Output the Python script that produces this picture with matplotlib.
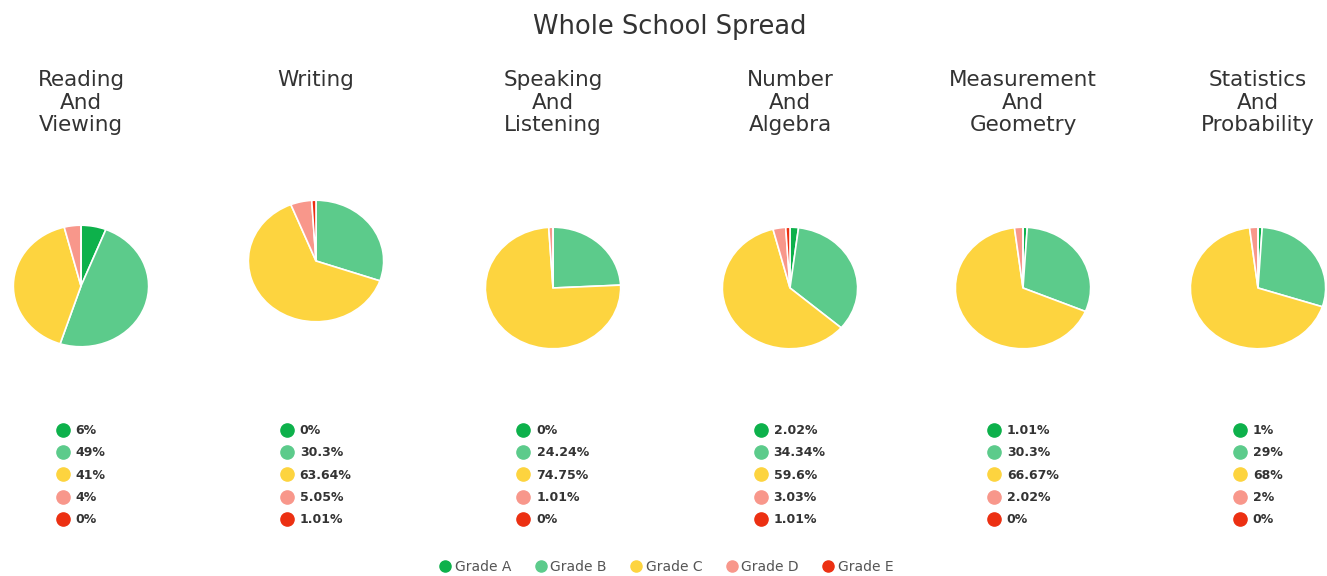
import matplotlib
matplotlib.use("Agg")
import matplotlib.pyplot as plt
from matplotlib.lines import Line2D

W, H = 1327, 576
DPI = 100

subjects = ["Reading\nAnd\nViewing", "Writing", "Speaking\nAnd\nListening",
            "Number\nAnd\nAlgebra", "Measurement\nAnd\nGeometry", "Statistics\nAnd\nProbability"]
grades = ["Grade A", "Grade B", "Grade C", "Grade D", "Grade E"]
colors = ["#0db14b", "#5ccb8b", "#fdd43f", "#f8978b", "#ec3012"]

reading = [6, 49, 41, 4, 0]
writing = [0, 30.3, 63.64, 5.05, 1.01]
speaking = [0, 24.24, 74.75, 1.01, 0]
number = [2.02, 34.34, 59.6, 3.03, 1.01]
measurement = [1.01, 30.3, 66.67, 2.02, 0]
statistics = [1, 29, 68, 2, 0]
series = [reading, writing, speaking, number, measurement, statistics]

reading_labels = ["6%", "49%", "41%", "4%", "0%"]
writing_labels = ["0%", "30.3%", "63.64%", "5.05%", "1.01%"]
speaking_labels = ["0%", "24.24%", "74.75%", "1.01%", "0%"]
number_labels = ["2.02%", "34.34%", "59.6%", "3.03%", "1.01%"]
measurement_labels = ["1.01%", "30.3%", "66.67%", "2.02%", "0%"]
statistics_labels = ["1%", "29%", "68%", "2%", "0%"]
label_sets = [reading_labels, writing_labels, speaking_labels,
              number_labels, measurement_labels, statistics_labels]

# layout (pixels)
centers_x = [81, 316, 553, 790, 1023, 1258]
centers_y = [286, 261, 288, 288, 288, 288]
rx, ry = 69, 62

fig = plt.figure(figsize=(W / DPI, H / DPI), dpi=DPI)
fig.patch.set_facecolor("white")

fig.text(670 / W, 1 - 27 / H, "Whole School Spread", ha="center", va="center",
         fontsize=18.5, color="#333333", family="DejaVu Sans")

for i, (vals, labs, title) in enumerate(zip(series, label_sets, subjects)):
    cx, cy = centers_x[i], centers_y[i]
    ax = fig.add_axes([(cx - rx) / W, 1 - (cy + ry) / H, 2 * rx / W, 2 * ry / H])
    ax.pie(vals, colors=colors, startangle=90, counterclock=False,
           wedgeprops=dict(edgecolor="white", linewidth=1.2))
    ax.set_aspect("auto")
    ax.set_xlim(-1.02, 1.02)
    ax.set_ylim(-1.02, 1.02)
    ax.axis("off")

    fig.text(cx / W, 1 - 70 / H, title, ha="center", va="top", fontsize=15.5,
             color="#333333", linespacing=1.17, family="DejaVu Sans")

    handles = [Line2D([], [], marker="o", linestyle="", markersize=9.5,
                      markerfacecolor=c, markeredgecolor=c) for c in colors]
    fig.legend(handles, labs, loc="upper center",
               bbox_to_anchor=(cx / W, 1 - 418 / H), frameon=False,
               prop=dict(size=9, weight="bold", family="DejaVu Sans"),
               labelcolor="#333333", labelspacing=0.74, handletextpad=0.55,
               handlelength=1.0, borderpad=0.0)

bh = [Line2D([], [], marker="o", linestyle="", markersize=8,
             markerfacecolor=c, markeredgecolor=c) for c in colors]
fig.legend(bh, grades, loc="center", bbox_to_anchor=(666 / W, 1 - 567 / H),
           ncol=5, frameon=False, prop=dict(size=10, family="DejaVu Sans"),
           labelcolor="#555555", handletextpad=0.2, columnspacing=1.6,
           handlelength=1.0, borderpad=0.0)

fig.savefig("out.png", dpi=DPI)
